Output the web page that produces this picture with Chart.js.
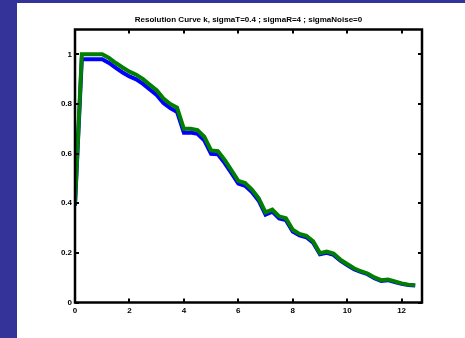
<!DOCTYPE html>
<html>
<head>
<meta charset="utf-8">
<script src="https://cdn.jsdelivr.net/npm/chart.js@4"></script>
<style>
  html,body{ margin:0; padding:0; background:#fff; }
  #wrap{ position:relative; width:465px; height:338px; background:#fff; overflow:hidden; }
  #stripLeft{ position:absolute; left:0; top:0; width:17px; height:338px; background:#333399; }
  #stripTop{ position:absolute; left:0; top:0; width:465px; height:3px; background:#333399; }
  #plot{ position:absolute; left:0; top:0; display:block; }
</style>
</head>
<body>
<div id="wrap">
  <div id="stripLeft"></div>
  <div id="stripTop"></div>
  <canvas id="plot" width="465" height="338"></canvas>
</div>
<script>
const titleText = "Resolution Curve k, sigmaT=0.4 ; sigmaR=4 ; sigmaNoise=0";

const xs = [0,0.25,0.5,0.75,1,1.25,1.5,1.75,2,2.25,2.5,2.75,3,3.25,3.5,3.75,4,4.25,4.5,4.75,
  5,5.25,5.5,5.75,6,6.25,6.5,6.75,7,7.25,7.5,7.75,8,8.25,8.5,8.75,9,9.25,9.5,9.75,
  10,10.25,10.5,10.75,11,11.25,11.5,11.75,12,12.25,12.5];

const greenVals = [0.40,1.0,1.0,1.0,1.0,0.985,0.965,0.947,0.93,0.918,0.9,0.877,0.855,0.822,0.80,0.785,0.70,0.70,0.695,0.668,
  0.613,0.61,0.575,0.533,0.49,0.481,0.455,0.42,0.363,0.374,0.347,0.34,0.293,0.276,0.269,0.247,0.199,0.205,0.197,0.173,
  0.155,0.138,0.126,0.117,0.101,0.09,0.093,0.085,0.077,0.072,0.07];

const blueVals = [0.39,0.98,0.98,0.98,0.98,0.965,0.945,0.927,0.911,0.899,0.881,0.858,0.836,0.804,0.783,0.768,0.684,0.685,0.68,0.653,
  0.599,0.597,0.562,0.521,0.479,0.47,0.445,0.41,0.354,0.366,0.339,0.332,0.286,0.27,0.263,0.241,0.194,0.2,0.192,0.169,
  0.151,0.134,0.123,0.114,0.098,0.087,0.09,0.082,0.075,0.07,0.068];

const xTicks = [0,2,4,6,8,10,12];
const yTicks = [0,0.2,0.4,0.6,0.8,1];

const pts = vals => vals.map((v,i)=>({ x: xs[i], y: v }));
const font = { family:"'Liberation Sans', Arial, sans-serif", size:8, weight:"bold" };

// box around the axes with small inward ticks on every side, title centred over the axes
const frame = {
  id:"frame",
  afterDraw(chart){
    const {ctx, chartArea:a, scales} = chart;
    ctx.save();
    ctx.strokeStyle = "#000";
    ctx.lineWidth = 2;
    xTicks.forEach(v=>{
      const px = Math.round(scales.x.getPixelForValue(v));
      ctx.beginPath();
      ctx.moveTo(px, a.bottom); ctx.lineTo(px, a.bottom-4);
      ctx.moveTo(px, a.top); ctx.lineTo(px, a.top+4);
      ctx.stroke();
    });
    yTicks.forEach(v=>{
      const py = Math.round(scales.y.getPixelForValue(v));
      ctx.beginPath();
      ctx.moveTo(a.left, py); ctx.lineTo(a.left+4, py);
      ctx.moveTo(a.right, py); ctx.lineTo(a.right-4, py);
      ctx.stroke();
    });
    ctx.lineWidth = 2.5;
    ctx.strokeRect(a.left, a.top, a.right-a.left, a.bottom-a.top);

    ctx.fillStyle = "#000";
    ctx.font = "bold 8px 'Liberation Sans', Arial, sans-serif";
    ctx.textAlign = "center";
    ctx.textBaseline = "middle";
    ctx.fillText(titleText, (a.left+a.right)/2, 20);
    ctx.restore();
  }
};

new Chart(document.getElementById("plot"), {
  type:"line",
  data:{
    datasets:[
      { data: pts(greenVals), borderColor:"#007f00", borderWidth:4, pointRadius:0, tension:0, fill:false },
      { data: pts(blueVals), borderColor:"#0000ff", borderWidth:4, pointRadius:0, tension:0, fill:false }
    ]
  },
  options:{
    responsive:false,
    animation:false,
    events:[],
    layout:{ padding:{ left:0, right:43, top:29.5, bottom:0 } },
    plugins:{
      legend:{ display:false },
      tooltip:{ enabled:false },
      title:{ display:false }
    },
    scales:{
      x:{
        type:"linear", min:0, max:12.75,
        grid:{ display:false, drawTicks:false },
        border:{ display:false },
        ticks:{ stepSize:2, includeBounds:false, color:"#000", font, padding:3, maxRotation:0 },
        afterFit(s){ s.height = 35.5; }
      },
      y:{
        min:0, max:1.1,
        grid:{ display:false, drawTicks:false },
        border:{ display:false },
        ticks:{ stepSize:0.2, includeBounds:false, color:"#000", font, padding:3,
          callback:v=>String(Math.round(v*10)/10) },
        afterFit(s){ s.width = 75; }
      }
    }
  },
  plugins:[frame]
});
</script>
</body>
</html>
